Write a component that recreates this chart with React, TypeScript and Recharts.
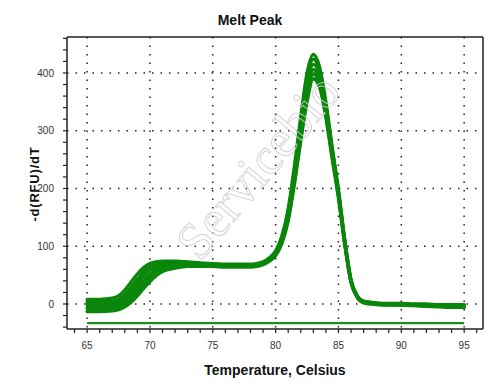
import React from 'react';
import { LineChart, Line, XAxis, YAxis, CartesianGrid } from 'recharts';

const temps = [65, 66, 67, 67.5, 68, 68.5, 69, 69.5, 70, 70.5, 71, 72, 73, 74, 75, 76, 77, 78, 78.5, 79, 79.5, 80, 80.5, 81, 81.5, 82, 82.5, 83, 83.5, 84, 84.5, 85, 85.5, 86, 86.5, 87, 88, 89, 90, 91, 92, 93, 94, 95];

const s1 = [8, 8, 10, 14, 24, 38, 52, 63, 70, 73, 74, 74, 73, 71, 70, 69, 69, 69, 70, 73, 80, 92, 118, 165, 240, 325, 400, 432, 410, 350, 272, 198, 112, 42, 14, 5, 2, 1, 1, 0, 0, -1, -1, -1];
const s2 = [4, 4, 5, 8, 16, 29, 43, 56, 65, 69, 71, 72, 71, 70, 69, 68, 68, 68, 69, 72, 78, 90, 115, 160, 232, 315, 390, 424, 403, 344, 268, 195, 110, 41, 13, 4, 1, 0, 0, -1, -1, -2, -2, -2];
const s3 = [0, 0, 1, 3, 10, 22, 36, 49, 59, 65, 68, 70, 70, 69, 68, 67, 67, 67, 68, 71, 77, 88, 112, 156, 226, 306, 380, 415, 396, 338, 264, 192, 108, 40, 13, 4, 1, 0, 0, -1, -2, -2, -3, -3];
const s4 = [-4, -4, -3, -1, 5, 15, 28, 41, 52, 60, 65, 68, 68, 68, 67, 66, 66, 66, 67, 70, 76, 86, 109, 151, 219, 296, 368, 406, 388, 332, 259, 189, 106, 39, 12, 3, 0, -1, -1, -2, -2, -3, -4, -4];
const s5 = [-8, -8, -7, -5, 0, 9, 21, 34, 46, 55, 61, 66, 67, 67, 66, 65, 65, 65, 66, 69, 75, 85, 107, 147, 213, 288, 358, 398, 381, 327, 255, 186, 104, 38, 12, 3, 0, -1, -2, -2, -3, -4, -5, -5];
const s6 = [-13, -13, -12, -10, -5, 3, 14, 27, 39, 49, 56, 62, 65, 65, 65, 64, 64, 64, 65, 68, 74, 84, 105, 144, 208, 282, 350, 390, 375, 322, 251, 183, 102, 37, 11, 2, -1, -2, -2, -3, -4, -5, -6, -6];

const flatTemps = [65, 95];
const flatValues = [-33, -33];

const xMajorTicks = [65, 70, 75, 80, 85, 90, 95];
const xMinorTicks = [64, 65, 66, 67, 68, 69, 70, 71, 72, 73, 74, 75, 76, 77, 78, 79, 80, 81, 82, 83, 84, 85, 86, 87, 88, 89, 90, 91, 92, 93, 94, 95, 96];
const yMajorTicks = [0, 100, 200, 300, 400];
const yMinorTicks = [-40, -20, 0, 20, 40, 60, 80, 100, 120, 140, 160, 180, 200, 220, 240, 260, 280, 300, 320, 340, 360, 380, 400, 420, 440, 460];

const seriesList = [s1, s2, s3, s4, s5, s6];
const data = temps.map((t, i) => {
  const row: Record<string, number> = { t };
  seriesList.forEach((s, k) => {
    row['s' + (k + 1)] = s[i];
  });
  return row;
});
const flatData = flatTemps.map((t, i) => ({ t, f: flatValues[i] }));

const X_DOMAIN: [number, number] = [63.4, 96.5];
const Y_DOMAIN: [number, number] = [-43.3, 462.3];
const FONT = '"Liberation Sans", Arial, sans-serif';
const AXIS_COLOR = '#222';
const GREEN = '#0a870a';

const XTick = (props: any) => {
  const { x, y, payload } = props;
  if (!xMajorTicks.includes(payload.value)) return <g />;
  return (
    <text x={x} y={y} dy="0.71em" textAnchor="middle" fontSize={10} fontFamily={FONT} fill="#333">
      {payload.value}
    </text>
  );
};

const YTick = (props: any) => {
  const { x, y, payload } = props;
  if (!yMajorTicks.includes(payload.value)) return <g />;
  return (
    <text x={x} y={y} dy="0.355em" textAnchor="end" fontSize={10} fontFamily={FONT} fill="#333">
      {payload.value}
    </text>
  );
};

export default function App() {
  const axisLine = { stroke: AXIS_COLOR, strokeWidth: 1.5 };
  const tickLine = { stroke: AXIS_COLOR, strokeWidth: 1.2 };
  return (
    <div style={{ position: 'absolute', left: 0, top: 0, width: 500, height: 386, background: '#fff' }}>
      <LineChart width={500} height={386} data={data} margin={{ top: 37, right: 17, bottom: 27, left: 7 }}>
        <CartesianGrid
          xAxisId="bottom"
          yAxisId="left"
          horizontalValues={yMajorTicks}
          verticalValues={xMajorTicks}
          stroke="#222"
          strokeDasharray="1.5 7"
          strokeWidth={1.5}
        />
        <XAxis
          xAxisId="bottom"
          dataKey="t"
          type="number"
          domain={X_DOMAIN}
          allowDataOverflow
          ticks={xMinorTicks}
          interval={0}
          height={30}
          tickSize={4}
          tickMargin={9}
          axisLine={axisLine}
          tickLine={tickLine}
          tick={<XTick />}
        />
        <XAxis
          xAxisId="top"
          orientation="top"
          mirror
          type="number"
          domain={X_DOMAIN}
          allowDataOverflow
          ticks={xMinorTicks}
          interval={0}
          tickSize={3}
          axisLine={axisLine}
          tickLine={tickLine}
          tick={false}
        />
        <YAxis
          yAxisId="left"
          type="number"
          domain={Y_DOMAIN}
          allowDataOverflow
          ticks={yMinorTicks}
          interval={0}
          width={60}
          tickSize={4}
          tickMargin={9}
          axisLine={axisLine}
          tickLine={tickLine}
          tick={<YTick />}
        />
        <YAxis
          yAxisId="leftInner"
          type="number"
          mirror
          domain={Y_DOMAIN}
          allowDataOverflow
          ticks={yMinorTicks}
          interval={0}
          tickSize={4}
          axisLine={false}
          tickLine={tickLine}
          tick={false}
        />
        <YAxis
          yAxisId="right"
          orientation="right"
          type="number"
          mirror
          domain={Y_DOMAIN}
          allowDataOverflow
          ticks={yMinorTicks}
          interval={0}
          tickSize={3}
          axisLine={axisLine}
          tickLine={tickLine}
          tick={false}
        />
        {seriesList.map((_, k) => (
          <Line
            key={k}
            xAxisId="bottom"
            yAxisId="left"
            dataKey={'s' + (k + 1)}
            type="monotone"
            stroke={GREEN}
            strokeWidth={3.3}
            strokeLinecap="round"
            dot={false}
            activeDot={false}
            isAnimationActive={false}
          />
        ))}
        <Line
          xAxisId="bottom"
          yAxisId="left"
          data={flatData}
          dataKey="f"
          type="linear"
          stroke="#1a8f1a"
          strokeWidth={2.2}
          dot={false}
          activeDot={false}
          isAnimationActive={false}
        />
      </LineChart>
      <div style={{ position: 'absolute', left: 0, top: 12, width: 500, textAlign: 'center', fontFamily: FONT, fontWeight: 'bold', fontSize: 14, lineHeight: '16px', color: '#111' }}>
        Melt Peak
      </div>
      <div style={{ position: 'absolute', left: 67, top: 361, width: 416, textAlign: 'center', fontFamily: FONT, fontWeight: 'bold', fontSize: 14, lineHeight: '18px', color: '#111' }}>
        Temperature, Celsius
      </div>
      <div style={{ position: 'absolute', left: 35, top: 184, width: 0, height: 0 }}>
        <div style={{ position: 'absolute', left: -60, top: -9, width: 120, textAlign: 'center', transform: 'rotate(-90deg)', fontFamily: FONT, fontWeight: 'bold', fontSize: 13, lineHeight: '18px', letterSpacing: 0.8, color: '#111', whiteSpace: 'nowrap' }}>
          -d(RFU)/dT
        </div>
      </div>
      <svg width={500} height={386} style={{ position: 'absolute', left: 0, top: 0, pointerEvents: 'none' }}>
        <text
          x={262}
          y={170}
          textAnchor="middle"
          dominantBaseline="middle"
          transform="rotate(-50 262 170)"
          fontFamily='"Liberation Serif", "DejaVu Serif", serif'
          fontSize={52}
          fill="none"
          stroke="rgba(205,205,205,0.85)"
          strokeWidth={1}
        >
          Servicebio
        </text>
      </svg>
    </div>
  );
}
